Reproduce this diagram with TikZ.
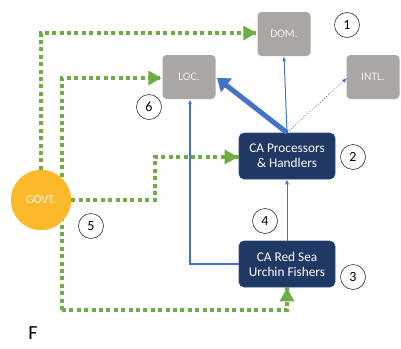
\documentclass[tikz,border=0pt]{standalone}
\usepackage{fontspec}
\setmainfont{Carlito}
\usetikzlibrary{arrows.meta}
\definecolor{gr}{HTML}{6FAC46}
\definecolor{gbox}{HTML}{AAA6A4}
\definecolor{navy}{HTML}{1F3864}
\definecolor{gold}{HTML}{FBB92B}
\definecolor{bl}{HTML}{4472C4}
\begin{document}
\begin{tikzpicture}[x=1pt,y=-1pt,
  graybox/.style={fill=gbox,rounded corners=4pt,minimum width=53pt,minimum height=44pt,text=white!90!gray,font=\fontsize{11.5}{12}\selectfont},
  navybox/.style={fill=navy,draw=bl!40!navy,line width=0.6pt,rounded corners=5pt,minimum width=96pt,minimum height=46pt,text=white,align=center,font=\fontsize{13.3}{15}\selectfont},
  numc/.style={draw=black!80,circle,line width=0.6pt,minimum size=25pt,inner sep=0pt,font=\fontsize{14}{14}\selectfont},
  gline/.style={draw=gr,line width=4pt,dash pattern=on 4pt off 3.4pt},
  bline/.style={draw=bl,line width=1pt,-{Latex[length=5pt,width=4pt]}}
]
\useasboundingbox (0,0) rectangle (401,348);
% boxes
\node[graybox] (dom) at (284,34) {DOM.};
\node[graybox] (intl) at (373,77) {INTL.};
\node[graybox] (loc) at (189,77) {LOC.};
\node[navybox] (proc) at (287,156) {CA Processors\\\& Handlers};
\node[navybox] (fish) at (287,264) {CA Red Sea\\Urchin Fishers};
% govt
\node[circle,fill=gold,minimum size=60pt,inner sep=0pt] (govt) at (41,200) {};
\coordinate (c1) at (41,33);
\coordinate (c2a) at (62,78);
\coordinate (c2b) at (62,310);
\coordinate (c3a) at (155,200);
\coordinate (c3b) at (155,157);
\coordinate (c4) at (287,310);
% green dotted
\path[gline] (govt.north) -- (c1) -- (dom.west |- c1);
\path[gline] (c2b) -- (c2a) -- (loc.west |- c2a);
\path[gline] (c2b) -- (c4) -- (fish.south);
\path[gline] (govt.east) -- (c3a) -- (c3b) -- (proc.west |- c3b);
\fill[gr] (dom.west |- c1) ++(-1,0) -- ++(-13,-7.5) -- ++(0,15) -- cycle;
\fill[gr] (loc.west |- c2a) ++(-1,0) -- ++(-13,-7.5) -- ++(0,15) -- cycle;
\fill[gr] (proc.west |- c3b) ++(-1,0) -- ++(-13,-7.5) -- ++(0,15) -- cycle;
\fill[gr] (fish.south) ++(0,1) -- ++(-7.5,13) -- ++(15,0) -- cycle;
\node[circle,fill=gold,minimum size=60pt,inner sep=0pt,text=white!92!gold,font=\fontsize{12}{12}\selectfont] at (govt) {GOVT.};
% blue
\coordinate (b1) at (190,264);
\draw[bline,line width=1.5pt] (fish.west) -- (b1) -- (b1 |- loc.south);
\draw[bline] (fish.north) -- (proc.south);
\draw[bline] (proc.north) -- (dom.south);
\draw[bl,line width=0.8pt,dotted,-{Latex[length=5pt,width=4pt]}] (proc.north) -- (347,78);
\draw[bl,line width=5pt,-{Triangle[length=12pt,width=17pt]}] (proc.north) -- (217,78);
% numbers
\node[numc] (n1) at (347,25) {1};
\node[numc] (n2) at (353,157) {2};
\node[numc] (n3) at (353,277) {3};
\node[numc] (n4) at (265,221) {4};
\node[numc] (n5) at (91,226) {5};
\node[numc] (n6) at (149,107) {6};
\node[font=\fontsize{20}{20}\selectfont,inner sep=1pt] (f) at (33,333) {F};
\end{tikzpicture}
\end{document}
